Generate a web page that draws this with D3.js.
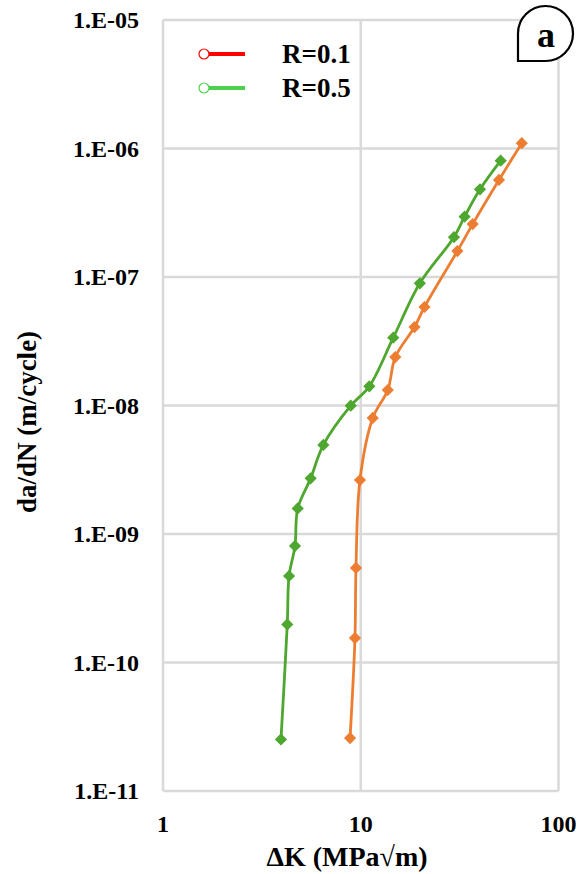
<!DOCTYPE html>
<html>
<head>
<meta charset="utf-8">
<script src="https://cdn.jsdelivr.net/npm/d3@7"></script>
<style>
  body { margin: 0; background: #fff; }
  svg { display: block; }
</style>
</head>
<body>
<svg id="plot"></svg>
<script>
const width = 584;
const height = 874;

// R = 0.1 series
const dk01 = [8.83, 9.35, 9.46, 9.91, 11.5, 13.7, 14.95, 18.7, 21.0, 30.8, 36.8, 50.0, 65.2];
const dadn01 = [2.58e-11, 1.55e-10, 5.44e-10, 2.63e-9, 8.0e-9, 1.32e-8, 2.38e-8, 4.08e-8, 5.84e-8, 1.59e-7, 2.58e-7, 5.69e-7, 1.10e-6];

// R = 0.5 series
const dk05 = [3.95, 4.25, 4.34, 4.65, 4.80, 5.58, 6.47, 8.90, 11.05, 14.6, 19.9, 29.6, 33.5, 40.1, 51.0];
const dadn05 = [2.52e-11, 1.98e-10, 4.71e-10, 8.07e-10, 1.58e-9, 2.71e-9, 4.93e-9, 9.96e-9, 1.41e-8, 3.37e-8, 8.93e-8, 2.04e-7, 2.95e-7, 4.81e-7, 8.04e-7];

const xTicks = [1, 10, 100];
const yTicks = [1e-11, 1e-10, 1e-9, 1e-8, 1e-7, 1e-6, 1e-5];
const legendLabels = ["R=0.1", "R=0.5"];

const svg = d3.select("#plot")
  .attr("width", width)
  .attr("height", height)
  .attr("font-family", "'Liberation Serif', 'Times New Roman', serif")
  .attr("font-weight", "bold");

const x = d3.scaleLog().domain([1, 100]).range([163, 558.5]);
const y = d3.scaleLog().domain([1e-11, 1e-5]).range([791, 20]);

const grid = "#d9d9d9";

// gridlines
svg.append("g")
  .selectAll("line")
  .data(yTicks)
  .join("line")
  .attr("x1", x(1)).attr("x2", x(100))
  .attr("y1", d => y(d)).attr("y2", d => y(d))
  .attr("stroke", grid).attr("stroke-width", 2.5);

svg.append("g")
  .selectAll("line")
  .data(xTicks)
  .join("line")
  .attr("x1", d => x(d)).attr("x2", d => x(d))
  .attr("y1", y(1e-5)).attr("y2", y(1e-11))
  .attr("stroke", grid).attr("stroke-width", 2.5);

// tick labels
const expLabel = d => {
  const e = Math.round(Math.log10(d));
  return "1.E-" + String(-e).padStart(2, "0");
};

svg.append("g")
  .selectAll("text")
  .data(yTicks)
  .join("text")
  .attr("x", 139)
  .attr("y", d => y(d))
  .attr("dy", "0.35em")
  .attr("text-anchor", "end")
  .attr("font-size", 24)
  .text(expLabel);

svg.append("g")
  .selectAll("text")
  .data(xTicks)
  .join("text")
  .attr("x", d => x(d))
  .attr("y", 832)
  .attr("text-anchor", "middle")
  .attr("font-size", 24)
  .text(d => d);

// axis titles
svg.append("text")
  .attr("x", 347)
  .attr("y", 866)
  .attr("text-anchor", "middle")
  .attr("font-size", 28)
  .text("ΔK (MPa√m)");

svg.append("text")
  .attr("transform", "translate(36,422) rotate(-90)")
  .attr("text-anchor", "middle")
  .attr("font-size", 27)
  .text("da/dN (m/cycle)");

// series
const series = [
  { dk: dk01, dadn: dadn01, color: "#ed7d31" },
  { dk: dk05, dadn: dadn05, color: "#4ea72e" }
];

const line = d3.line()
  .x(d => x(d[0]))
  .y(d => y(d[1]))
  .curve(d3.curveCatmullRom.alpha(0.5));

const diamond = d3.symbol().type(d3.symbolDiamond2).size(95);

series.forEach(s => {
  const pts = s.dk.map((v, i) => [v, s.dadn[i]]);
  svg.append("path")
    .datum(pts)
    .attr("fill", "none")
    .attr("stroke", s.color)
    .attr("stroke-width", 2.8)
    .attr("d", line);

  svg.append("g")
    .selectAll("path")
    .data(pts)
    .join("path")
    .attr("transform", d => `translate(${x(d[0])},${y(d[1])})`)
    .attr("d", diamond)
    .attr("fill", s.color);
});

// legend
const legendColors = ["#ff0000", "#4fd04f"];
const legend = svg.append("g");
legendLabels.forEach((lab, i) => {
  const ly = 54 + i * 34;
  legend.append("line")
    .attr("x1", 208).attr("x2", 245)
    .attr("y1", ly).attr("y2", ly)
    .attr("stroke", legendColors[i]).attr("stroke-width", 4);
  legend.append("circle")
    .attr("cx", 204).attr("cy", ly).attr("r", 5)
    .attr("fill", "#fff")
    .attr("stroke", legendColors[i]).attr("stroke-width", 1.2);
  legend.append("text")
    .attr("x", 282).attr("y", ly)
    .attr("dy", "0.35em")
    .attr("font-size", 27)
    .text(lab);
});

// panel badge
svg.append("path")
  .attr("d", "M518,33.5 A27.5,27.5 0 1,1 545.5,61 L518,61 Z")
  .attr("fill", "#fff")
  .attr("stroke", "#000")
  .attr("stroke-width", 2.2);

svg.append("text")
  .attr("x", 546)
  .attr("y", 34)
  .attr("dy", "0.35em")
  .attr("text-anchor", "middle")
  .attr("font-size", 36)
  .text("a");
</script>
</body>
</html>
